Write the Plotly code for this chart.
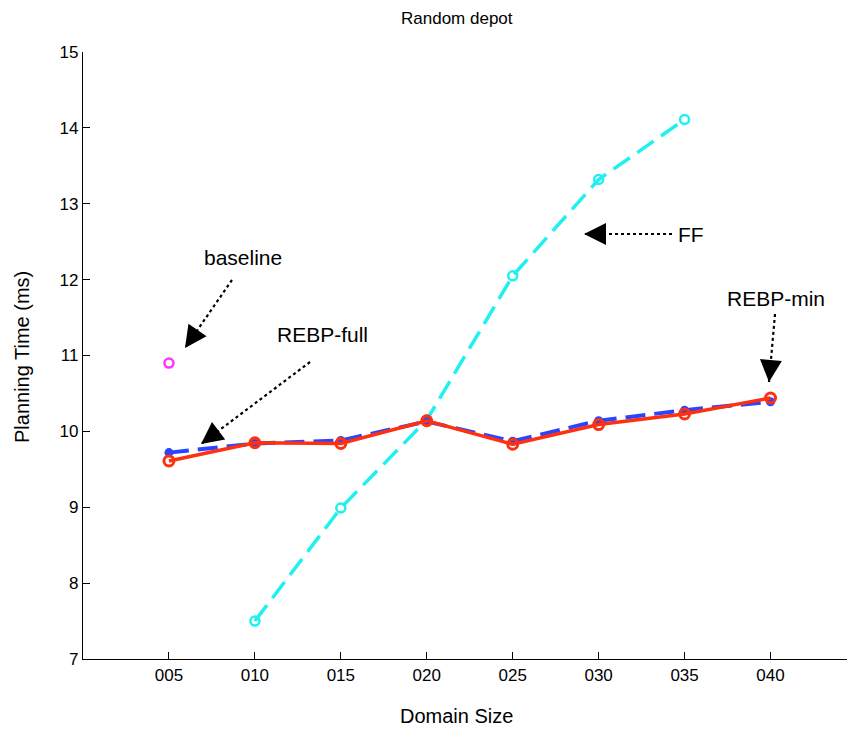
import plotly.graph_objects as go

domain_size = [5, 10, 15, 20, 25, 30, 35, 40]
tick_labels = ["005", "010", "015", "020", "025", "030", "035", "040"]

rebp_full = [9.72, 9.84, 9.88, 10.13, 9.87, 10.14, 10.28, 10.39]
rebp_min = [9.61, 9.85, 9.84, 10.14, 9.83, 10.09, 10.23, 10.44]
ff_x = [10, 15, 20, 25, 30, 35]
ff = [7.50, 8.99, 10.15, 12.05, 13.32, 14.11]
baseline_x = [5]
baseline = [10.90]

W, H = 847, 731
L, R, T, B = 83, 0, 52, 72
XR = [0, 44.45]
YR = [7, 15]
pw = W - L - R
ph = H - T - B


def px2x(px):
    return XR[0] + (px - L) / pw * (XR[1] - XR[0])


def py2y(py):
    return YR[1] - (py - T) / ph * (YR[1] - YR[0])


fig = go.Figure()
fig.add_trace(go.Scatter(x=ff_x, y=ff, mode="lines+markers",
                         line=dict(color="#1ff0f0", width=3.5, dash="20px,9px"),
                         marker=dict(symbol="circle-open", size=9, color="#1ff0f0", line=dict(width=2.5))))
fig.add_trace(go.Scatter(x=domain_size, y=rebp_full, mode="lines+markers",
                         line=dict(color="#2b45ff", width=4, dash="20px,9px"),
                         marker=dict(symbol="circle", size=9, color="#2b45ff")))
fig.add_trace(go.Scatter(x=domain_size, y=rebp_min, mode="lines+markers",
                         line=dict(color="#ff3010", width=3.5),
                         marker=dict(symbol="circle-open", size=10, color="#ff3010", line=dict(width=3))))
fig.add_trace(go.Scatter(x=baseline_x, y=baseline, mode="markers",
                         marker=dict(symbol="circle-open", size=9, color="#ff33ff", line=dict(width=2.5))))

font = "Liberation Sans, Arial, Helvetica, sans-serif"

# annotation texts (pixel positions)
labels = [("baseline", 243, 257), ("REBP-full", 322, 334), ("FF", 691, 234), ("REBP-min", 776, 298)]
for txt, px, py in labels:
    fig.add_annotation(x=px2x(px), y=py2y(py), text=txt, showarrow=False,
                       xanchor="center", yanchor="middle",
                       font=dict(size=21, color="black", family=font))

# dotted arrows: (start px, start py, tip px, tip py)
arrows = [(232, 280, 185, 348), (310, 362, 201, 444), (672, 234, 584, 234), (775, 314, 769, 382)]
for sx, sy, tx, ty in arrows:
    fig.add_shape(type="line", x0=px2x(sx), y0=py2y(sy), x1=px2x(tx), y1=py2y(ty),
                  xref="x", yref="y", line=dict(color="black", width=2.2, dash="dot"))
    dx, dy = sx - tx, sy - ty
    n = (dx * dx + dy * dy) ** 0.5
    fig.add_annotation(x=px2x(tx), y=py2y(ty), ax=dx / n * 17, ay=dy / n * 17,
                       text="", showarrow=True, arrowhead=2, arrowsize=2.2, arrowwidth=2,
                       arrowcolor="black", standoff=0)

fig.add_annotation(x=(457 - L) / pw, y=1 + (T - 18) / ph, xref="paper", yref="paper",
                   xanchor="center", yanchor="middle",
                   text="Random depot", showarrow=False, font=dict(size=17, family=font, color="black"))
fig.add_annotation(x=(456 - L) / pw, y=-(716 - (H - B)) / ph, xref="paper", yref="paper",
                   xanchor="center", yanchor="middle",
                   text="Domain Size", showarrow=False, font=dict(size=20, family=font, color="black"))
fig.add_annotation(x=-(L - 22) / pw, y=(H - B - 357) / ph, xref="paper", yref="paper",
                   xanchor="center", yanchor="middle",
                   text="Planning Time (ms)", textangle=-90, showarrow=False,
                   font=dict(size=20, family=font, color="black"))

fig.update_layout(
    width=W, height=H,
    margin=dict(l=L, r=R, t=T, b=B),
    paper_bgcolor="white", plot_bgcolor="white",
    showlegend=False,
    xaxis=dict(range=XR, tickvals=domain_size, ticktext=tick_labels,
               ticks="inside", ticklen=7, tickwidth=1.3, tickcolor="black",
               showline=True, linecolor="black", linewidth=1.3, showgrid=False, zeroline=False,
               tickfont=dict(size=17, family=font, color="black")),
    yaxis=dict(range=YR, tickvals=[7, 8, 9, 10, 11, 12, 13, 14, 15],
               ticks="inside", ticklen=7, tickwidth=1.3, tickcolor="black",
               showline=True, linecolor="black", linewidth=1.3, showgrid=False, zeroline=False,
               tickfont=dict(size=17, family=font, color="black")),
)

fig.write_html("out.html")
